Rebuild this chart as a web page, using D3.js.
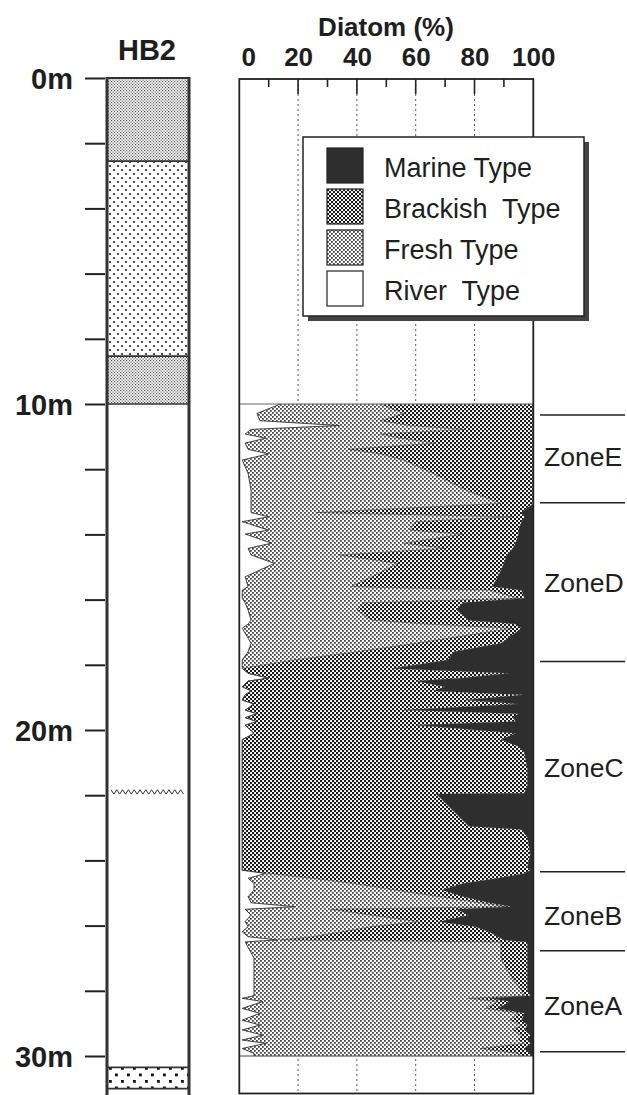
<!DOCTYPE html>
<html><head><meta charset="utf-8">
<script src="https://cdn.jsdelivr.net/npm/d3@7"></script>
<style>
html,body{margin:0;padding:0;background:#fff;overflow:hidden;}
svg{display:block;}
text{font-family:"Liberation Sans",Arial,Helvetica,sans-serif;fill:#1e1e1e;}
</style></head><body>
<svg id="c" width="627" height="1095"></svg>
<script>
// ---------- data ----------
const depth = [10.00,10.29,10.51,10.66,10.78,10.92,11.05,11.20,11.39,11.53,11.72,12.13,12.64,13.05,13.33,13.46,13.61,13.87,13.99,14.27,14.43,14.63,14.89,15.30,15.60,15.71,15.96,16.10,16.32,16.63,16.75,16.88,17.34,17.60,17.85,18.11,18.26,18.41,18.50,18.67,18.80,18.92,19.08,19.20,19.39,19.50,19.62,19.74,19.85,20.10,20.30,20.50,20.70,21.20,21.70,21.94,21.96,22.95,23.05,23.30,23.80,24.20,24.30,24.40,24.55,24.71,24.91,25.11,25.30,25.42,25.50,25.68,25.88,26.03,26.19,26.34,26.44,26.50,27.00,27.50,28.00,28.15,28.23,28.33,28.54,28.69,28.90,29.05,29.20,29.36,29.51,29.61,29.77,29.92,30.00];
const river = [14,6,7,34,4,2,9,2,3,10,1,3,4,4,4,10,1,10,2,11,3,4,12,2,3,1,1,2,3,4,3,1,4,3,1,1,3,10,3,1,4,2,1,5,2,6,2,6,2,5,1,1,1,1,1,1,1,1,1,1,1,1,1,9,3,5,5,3,4,19,2,4,2,3,1,3,13,2,5,5,5,5,1,8,1,7,1,7,1,8,1,9,1,5,5];
const fresh = [34,50,41,24,73,46,46,65,34,38,55,63,73,85,22,83,59,48,74,45,67,30,42,43,35,84,94,40,37,41,61,92,56,37,18,0,0,0,0,0,0,0,0,0,0,0,0,0,0,0,0,0,0,0,0,0,0,0,0,0,0,0,0,1,22,34,48,65,78,72,29,41,59,42,34,22,1,87,84,87,91,92,77,80,83,88,91,89,92,88,94,88,81,90,91];
const brackish = [52,44,52,42,23,52,45,33,63,52,44,34,23,11,70,4,36,37,19,38,23,57,36,43,48,11,2,34,34,33,30,3,29,33,52,51,89,65,57,69,62,95,76,90,54,89,91,88,58,89,88,94,96,97,97,96,66,77,95,97,98,97,98,87,63,37,16,8,3,2,43,33,7,35,50,63,76,9,9,6,2,2,7,4,4,2,4,2,4,3,3,2,15,4,3];
const marine = [0,0,0,0,0,0,0,0,0,0,0,0,0,0,4,3,4,5,5,6,7,9,10,12,14,4,3,24,26,22,6,4,11,27,29,48,8,25,40,30,34,3,23,5,44,5,7,6,40,6,11,5,3,2,2,3,33,22,4,2,1,2,1,3,12,24,31,24,15,7,26,22,32,20,15,12,10,2,2,2,2,1,15,8,12,3,4,2,3,1,2,1,3,1,1];

const typeKeys = ["river","fresh","brackish","marine"];
const legendNames = ["Marine Type","Brackish  Type","Fresh Type","River  Type"];
const legendKeys = ["marine","brackish","fresh","river"];
const zoneNames = ["ZoneE","ZoneD","ZoneC","ZoneB","ZoneA"];
const zoneBounds = [10.34,13.03,17.9,24.35,26.77,29.87];
const pctLabels = [0,20,40,60,80,100];
const depthLabels = [0,10,20,30];
const lithoTop = [0,2.55,8.53,10.0,30.35,31.0];
const lithoBottom = [2.55,8.53,10.0,30.35,31.0,31.6];
const lithoType = ["silt","sand","silt","clay","gravel","clay"];
const unconformity = 21.9;

// ---------- layout ----------
const svg = d3.select("#c");
const y = d3.scaleLinear().domain([0,30]).range([78,1056]);
const x = d3.scaleLinear().domain([0,100]).range([239.3,533.3]);
const panelTop = 79, panelBottom = y(31.15);
const colL = 107, colR = 189;

// ---------- patterns ----------
const defs = svg.append("defs");
function pat(id,w,h,bg){const p=defs.append("pattern").attr("id",id).attr("width",w).attr("height",h).attr("patternUnits","userSpaceOnUse");p.append("rect").attr("width",w).attr("height",h).attr("fill",bg);return p;}
let p = pat("pFresh",4,4,"#fff");
p.append("rect").attr("x",0).attr("y",0).attr("width",1.8).attr("height",1.8).attr("fill","#444");
p.append("rect").attr("x",2).attr("y",2).attr("width",1.8).attr("height",1.8).attr("fill","#444");
p = pat("pBrack",4,4,"#fff");
p.append("rect").attr("x",0).attr("y",0).attr("width",2.1).attr("height",2.1).attr("fill","#1a1a1a");
p.append("rect").attr("x",2).attr("y",2).attr("width",2.1).attr("height",2.1).attr("fill","#1a1a1a");
p = pat("pSilt",3,3,"#fff");
p.append("rect").attr("x",0).attr("y",0).attr("width",1.2).attr("height",1.2).attr("fill","#555");
p.append("rect").attr("x",1.5).attr("y",1.5).attr("width",1.2).attr("height",1.2).attr("fill","#555");
p = pat("pSand",8,8,"#fff");
p.append("circle").attr("cx",2).attr("cy",2).attr("r",1).attr("fill","#111");
p.append("circle").attr("cx",6).attr("cy",6).attr("r",1).attr("fill","#111");
p = pat("pGravel",12,13,"#fff");
p.append("rect").attr("x",1).attr("y",1).attr("width",2.8).attr("height",2.8).attr("fill","#111");
p.append("rect").attr("x",7).attr("y",7.5).attr("width",2.8).attr("height",2.8).attr("fill","#111");
const lithoFill = {silt:"url(#pSilt)",sand:"url(#pSand)",clay:"#fff",gravel:"url(#pGravel)"};
const typeFill = {river:"#fff",fresh:"url(#pFresh)",brackish:"url(#pBrack)",marine:"#2e2e2e"};

// ---------- titles ----------
svg.append("text").attr("x",386).attr("y",36).attr("text-anchor","middle").attr("font-size",26).attr("font-weight","bold").text("Diatom (%)");
svg.append("text").attr("x",147).attr("y",60).attr("text-anchor","middle").attr("font-size",29).attr("font-weight","bold").text("HB2");

// ---------- lithology column ----------
const col = svg.append("g");
lithoTop.forEach((t,i)=>{
  col.append("rect").attr("x",colL).attr("y",y(t)).attr("width",colR-colL).attr("height",y(lithoBottom[i])-y(t)).attr("fill",lithoFill[lithoType[i]]);
  if(i>0) col.append("line").attr("x1",colL).attr("x2",colR).attr("y1",y(t)).attr("y2",y(t)).attr("stroke","#333").attr("stroke-width",1.6);
});
col.append("line").attr("x1",colL).attr("x2",colR).attr("y1",y(0)).attr("y2",y(0)).attr("stroke","#333").attr("stroke-width",2);
const zz = d3.range(0,26).map(i=>[colL+4+i*2.9, y(unconformity)+(i%2?2.2:-2.2)]);
col.append("path").attr("d",d3.line()(zz)).attr("fill","none").attr("stroke","#333").attr("stroke-width",1);
col.append("line").attr("x1",colL).attr("x2",colL).attr("y1",y(0)-1).attr("y2",1095).attr("stroke","#333").attr("stroke-width",3);
col.append("line").attr("x1",colR).attr("x2",colR).attr("y1",y(0)-1).attr("y2",1095).attr("stroke","#333").attr("stroke-width",3);

// depth axis
const yAxis = d3.axisLeft(y).tickValues(d3.range(0,31,2)).tickSize(20).tickPadding(12)
  .tickFormat(d=>depthLabels.includes(d)? d+"m" : "");
const gY = svg.append("g").attr("transform","translate(105,0)").call(yAxis);
gY.select(".domain").remove();
gY.selectAll(".tick line").attr("stroke","#222").attr("stroke-width",2);
gY.selectAll(".tick text").attr("font-size",29).attr("font-weight","bold").attr("fill","#1e1e1e").attr("dy","0.36em");

// ---------- diatom panel ----------
const panel = svg.append("g");
panel.selectAll("line.grid").data([20,40,60,80]).join("line").attr("class","grid")
  .attr("x1",d=>x(d)).attr("x2",d=>x(d)).attr("y1",panelTop).attr("y2",panelBottom)
  .attr("stroke","#333").attr("stroke-width",0.8).attr("stroke-dasharray","2,3");
panel.selectAll("line.tk").data(d3.range(10,100,10)).join("line").attr("class","tk")
  .attr("x1",d=>x(d)).attr("x2",d=>x(d)).attr("y1",panelTop).attr("y2",d=>panelTop+(d%20===0?15:8))
  .attr("stroke","#222").attr("stroke-width",1.6);

const rows = depth.map((d,i)=>({depth:d,river:river[i],fresh:fresh[i],brackish:brackish[i],marine:marine[i]}));
const series = d3.stack().keys(typeKeys)(rows);
const area = d3.area().y(d=>y(d.data.depth)).x0(d=>x(d[0])).x1(d=>x(d[1]));
panel.selectAll("path.layer").data(series).join("path").attr("class","layer")
  .attr("d",area).attr("fill",s=>typeFill[s.key]).attr("stroke",s=>typeFill[s.key]).attr("stroke-width",0.3);
const edge = d3.line().y(d=>y(d.data.depth)).x(d=>x(d[1]));
panel.append("path").attr("d",edge(series[0])).attr("fill","none").attr("stroke","#333").attr("stroke-width",0.9);
panel.append("path").attr("d",edge(series[1])).attr("fill","none").attr("stroke","#444").attr("stroke-width",0.5);
panel.append("line").attr("x1",x(0)).attr("x2",x(100)).attr("y1",y(10)).attr("y2",y(10)).attr("stroke","#666").attr("stroke-width",1);
panel.append("line").attr("x1",x(0)).attr("x2",x(100)).attr("y1",y(30)).attr("y2",y(30)).attr("stroke","#444").attr("stroke-width",1);
panel.append("rect").attr("x",x(0)).attr("y",panelTop).attr("width",x(100)-x(0)).attr("height",panelBottom-panelTop)
  .attr("fill","none").attr("stroke","#222").attr("stroke-width",1.8);

const xAxis = d3.axisTop(x).tickValues(pctLabels).tickSize(0).tickPadding(0);
const gX = svg.append("g").attr("transform","translate(0,66)").call(xAxis);
gX.select(".domain").remove();
gX.selectAll(".tick text").attr("font-size",26).attr("font-weight","bold").attr("fill","#1e1e1e")
  .attr("dx",d=>d===0?9:0);

// ---------- legend ----------
const lg = svg.append("g").attr("transform","translate(303,137)");
lg.append("rect").attr("x",5).attr("y",5).attr("width",281).attr("height",179).attr("fill","#444");
lg.append("rect").attr("x",0).attr("y",0).attr("width",281).attr("height",179).attr("fill","#fff").attr("stroke","#222").attr("stroke-width",1.5);
legendKeys.forEach((k,i)=>{
  lg.append("rect").attr("x",24).attr("y",11+i*41).attr("width",36).attr("height",35)
    .attr("fill",typeFill[k]).attr("stroke","#222").attr("stroke-width",1.2);
  lg.append("text").attr("x",81).attr("y",40+i*41).attr("font-size",27).style("white-space","pre").text(legendNames[i]);
});

// ---------- zones ----------
const zg = svg.append("g");
zg.selectAll("line").data(zoneBounds).join("line")
  .attr("x1",540).attr("x2",625).attr("y1",d=>y(d)).attr("y2",d=>y(d)).attr("stroke","#222").attr("stroke-width",1.5);
const zoneMid = [11.6,15.48,21.16,25.7,28.45];
zoneNames.forEach((z,i)=>{
  zg.append("text").attr("x",544).attr("y",y(zoneMid[i])+9.5).attr("font-size",26.5).text(z);
});
</script>
</body></html>
